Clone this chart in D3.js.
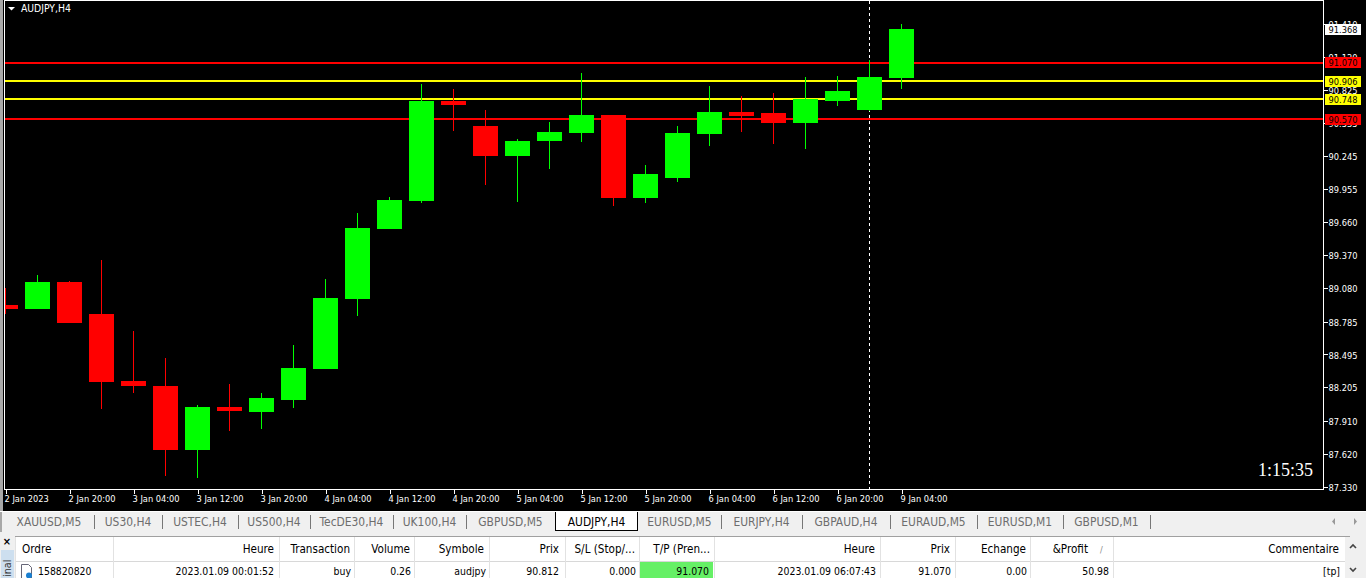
<!DOCTYPE html>
<html><head><meta charset="utf-8">
<script src="https://cdn.jsdelivr.net/npm/d3@7/dist/d3.min.js"></script>
<style>
html,body{margin:0;padding:0;background:#000;overflow:hidden}
svg{display:block}
text{font-family:"DejaVu Sans Condensed","DejaVu Sans",sans-serif;font-stretch:condensed}
.axis path{display:none}
.axis line{stroke:#fff;shape-rendering:crispEdges}
.axis text{fill:#fff;font-size:9.2px;font-family:"DejaVu Sans Condensed","DejaVu Sans",sans-serif;font-stretch:condensed}
</style></head><body>
<svg id="c" width="1366" height="578"></svg>
<script>
const symbolTitle = "AUDJPY,H4";
const opens  = [88.930,88.895,89.133,88.851,88.260,88.216,87.652,88.032,87.987,88.093,88.366,88.983,89.601,89.847,90.730,90.509,90.245,90.377,90.447,90.606,89.874,90.051,90.438,90.633,90.624,90.536,90.730,90.651,90.932];
const highs  = [89.080,89.195,89.142,89.327,88.701,88.464,88.049,88.235,88.155,88.579,89.160,89.742,89.883,90.879,90.835,90.651,90.394,90.544,90.977,90.606,90.165,90.509,90.862,90.773,90.800,90.941,90.950,91.091,91.409];
const lows   = [88.851,88.895,88.771,88.014,88.155,87.422,87.404,87.820,87.837,88.023,88.366,88.833,89.601,89.830,90.465,89.989,89.838,90.130,90.368,89.803,89.830,90.015,90.332,90.456,90.350,90.306,90.686,90.642,90.835];
const closes = [88.895,89.133,88.771,88.252,88.216,87.652,88.032,87.996,88.111,88.375,88.992,89.610,89.856,90.730,90.695,90.245,90.377,90.456,90.606,89.874,90.086,90.447,90.633,90.597,90.536,90.748,90.817,90.941,91.368];
const priceTicks = [91.410,91.120,90.825,90.535,90.245,89.955,89.660,89.370,89.080,88.785,88.495,88.205,87.910,87.620,87.330];
const timeIndex  = [0,2,4,6,8,10,12,14,16,18,20,22,24,26,28];
const timeLabels = ["2 Jan 2023","2 Jan 20:00","3 Jan 04:00","3 Jan 12:00","3 Jan 20:00","4 Jan 04:00","4 Jan 12:00","4 Jan 20:00","5 Jan 04:00","5 Jan 12:00","5 Jan 20:00","6 Jan 04:00","6 Jan 12:00","6 Jan 20:00","9 Jan 04:00"];
const levelPrices = [91.070,90.906,90.748,90.570];
const levelColors = ["#ff0000","#ffff00","#ffff00","#ff0000"];
const bidPrice = 91.368;
const crosshairIndex = 27;
const clockText = "1:15:35";
const tabNames = ["XAUUSD,M5","US30,H4","USTEC,H4","US500,H4","TecDE30,H4","UK100,H4","GBPUSD,M5","AUDJPY,H4","EURUSD,M5","EURJPY,H4","GBPAUD,H4","EURAUD,M5","EURUSD,M1","GBPUSD,M1"];
const tabEdges = [3,94,162,238,310,393,466,555,638,721,802,890,977,1063,1150];
const activeTab = "AUDJPY,H4";
const tableHeaders = ["Ordre","Heure","Transaction","Volume","Symbole","Prix","S/L (Stop/...","T/P (Pren...","Heure","Prix","Echange","&Profit","Commentaire"];
const tableRow = ["158820820","2023.01.09 00:01:52","buy","0.26","audjpy","90.812","0.000","91.070","2023.01.09 06:07:43","91.070","0.00","50.98","[tp]"];
const columnEdges = [15,113,279,354,414,489,565,639,714,880,955,1030,1113,1345];

const svg = d3.select("#c");
const W=1366,H=578,L=5,R=1323,T=1,B=489;
const x = d3.scaleLinear().domain([0,1]).range([5.5,37.5]);
const y = d3.scaleLinear().domain([87.33,90.245]).range([486.5,156]);
const fmt = d3.format(".3f");

svg.append("rect").attr("width",W).attr("height",H).attr("fill","#000");
svg.append("rect").attr("x",0).attr("y",0).attr("width",3).attr("height",511).attr("fill","#a8a8a8");
svg.append("defs").append("clipPath").attr("id","plot").append("rect").attr("x",L).attr("y",T).attr("width",R-L).attr("height",B-T);
const plot = svg.append("g").attr("clip-path","url(#plot)");

plot.append("line").attr("x1",x(crosshairIndex)).attr("x2",x(crosshairIndex)).attr("y1",T).attr("y2",B)
  .attr("stroke","#fff").attr("stroke-dasharray","3,3").style("shape-rendering","crispEdges");
plot.selectAll(".lvl").data(levelPrices).join("rect").attr("class","lvl")
  .attr("x",L).attr("width",R-L).attr("y",d=>Math.round(y(d)+0.2)-1).attr("height",2)
  .attr("fill",(d,i)=>levelColors[i]);

const idx = d3.range(opens.length);
const col = i=> closes[i]>=opens[i] ? "#00ff00" : "#ff0000";
plot.selectAll(".wick").data(idx).join("rect").attr("class","wick")
  .attr("x",i=>Math.floor(x(i))).attr("width",1)
  .attr("y",i=>Math.round(y(highs[i]))).attr("height",i=>Math.round(y(lows[i]))-Math.round(y(highs[i])))
  .attr("fill",col);
plot.selectAll(".body").data(idx).join("rect").attr("class","body")
  .attr("x",i=>x(i)-12.5).attr("width",25)
  .attr("y",i=>Math.round(y(Math.max(opens[i],closes[i]))))
  .attr("height",i=>Math.round(y(Math.min(opens[i],closes[i])))-Math.round(y(Math.max(opens[i],closes[i]))))
  .attr("fill",col);

svg.append("rect").attr("x",4).attr("y",0).attr("width",1).attr("height",B+1).attr("fill","#fff");
svg.append("rect").attr("x",4).attr("y",0).attr("width",R-3).attr("height",1).attr("fill","#fff");
svg.append("rect").attr("x",4).attr("y",B).attr("width",R-3).attr("height",1).attr("fill","#fff");
svg.append("rect").attr("x",R).attr("y",0).attr("width",1).attr("height",B+1).attr("fill","#fff");

const yAxis = d3.axisRight(y).tickValues(priceTicks).tickFormat(fmt).tickSize(4).tickPadding(1);
const yg = svg.append("g").attr("class","axis").attr("transform",`translate(${R+0.5},0)`).call(yAxis);
yg.selectAll("text").attr("y",0.7);
const xAxis = d3.axisBottom(x).tickValues(timeIndex).tickFormat((d,i)=>timeLabels[i]).tickSize(4).tickPadding(2);
const xg = svg.append("g").attr("class","axis").attr("transform",`translate(0,${B+0.5})`).call(xAxis);
xg.selectAll("text").attr("text-anchor","start").attr("dx",-1.5);

const tags = [{p:bidPrice,c:"#fff"}].concat(levelPrices.map((p,i)=>({p,c:levelColors[i]})));
const tg = svg.selectAll(".tag").data(tags).join("g").attr("class","tag")
  .attr("transform",d=>`translate(1325,${Math.round(y(d.p))-5})`);
tg.append("rect").attr("width",36).attr("height",11).attr("fill",d=>d.c);
tg.append("text").attr("x",18).attr("y",9).attr("text-anchor","middle").attr("font-size",9.2).attr("fill","#000").text(d=>fmt(d.p));

svg.append("path").attr("d",d3.line()([[8,7],[15,7],[11.5,10.5]])+"Z").attr("fill","#fff");
svg.append("text").attr("x",21).attr("y",12).attr("font-size",10.3).attr("fill","#fff").text(symbolTitle);
svg.append("text").attr("x",1313).attr("y",476).attr("text-anchor","end").attr("font-size",18)
  .style("font-family","'Liberation Serif',serif").style("font-stretch","normal").attr("fill","#fff").text(clockText);

svg.append("rect").attr("x",0).attr("y",511).attr("width",W).attr("height",1).attr("fill","#fff");
svg.append("rect").attr("x",0).attr("y",512).attr("width",W).attr("height",66).attr("fill","#f0f0f0");
svg.append("rect").attr("x",0).attr("y",512).attr("width",2).attr("height",20).attr("fill","#a8a8a8");
tabNames.forEach((n,i)=>{
  const a=tabEdges[i],b=tabEdges[i+1],active=n===activeTab;
  if(active){
    svg.append("path").attr("d",`M${a+.5},512V530.5H${b-.5}V512`).attr("fill","#fff").attr("stroke","#000").style("shape-rendering","crispEdges");
  } else if(tabNames[i+1]!==activeTab){
    svg.append("rect").attr("x",b).attr("y",515).attr("width",1).attr("height",14).attr("fill","#777");
  }
  svg.append("text").attr("x",(a+b)/2+(i==0?0.5:0)).attr("y",526).attr("text-anchor","middle").attr("font-size",11.9)
    .attr("fill",active?"#000":"#6d6d6d").text(n);
});
svg.selectAll(".arr").data([[1332,1],[1354,-1]]).join("path").attr("class","arr")
  .attr("d",d=>`M${d[0]+(d[1]>0?3:0)},518v7l${d[1]>0?-3:3},-3.5z`).attr("fill","#999");

const tTop=537,tSep=561;
svg.append("rect").attr("x",15).attr("y",tTop).attr("width",1330).attr("height",H-tTop).attr("fill","#fff");
svg.append("rect").attr("x",15).attr("y",tTop-1).attr("width",1335).attr("height",1).attr("fill","#a0a0a0");
svg.append("rect").attr("x",15).attr("y",tSep).attr("width",1330).attr("height",1).attr("fill","#d8d8d8");
svg.append("rect").attr("x",columnEdges[7]+1).attr("y",tSep+1).attr("width",columnEdges[8]-columnEdges[7]-2).attr("height",H-tSep-1).attr("fill","#66f066");
columnEdges.slice(0,-1).forEach(e=>svg.append("rect").attr("x",e).attr("y",tTop).attr("width",1).attr("height",H-tTop).attr("fill","#e2e2e2"));
const hdrRight=[null,274,350,410,484,559,635,710,875,950,1026,1088,1339];
const rowRight=[null,274,351,411,486,559,636,709,876,951,1027,1109,1340];
tableHeaders.forEach((t,i)=>{
  const sel=svg.append("text").attr("y",553).attr("font-size",11.6).attr("fill","#000").text(t);
  if(i===0) sel.attr("x",22); else sel.attr("x",hdrRight[i]).attr("text-anchor","end");
});
tableRow.forEach((t,i)=>{
  const sel=svg.append("text").attr("y",575).attr("font-size",10.4).attr("fill","#000").text(t);
  if(i===0) sel.attr("x",38); else sel.attr("x",rowRight[i]).attr("text-anchor","end");
});
svg.append("text").attr("x",1100).attr("y",553).attr("font-size",9).attr("fill","#888").text("/");
svg.append("path").attr("d","M21.5,578V564.5H28.5L31.5,567.5V578").attr("fill","#fff").attr("stroke","#667").attr("stroke-width",1);
svg.append("circle").attr("cx",29).attr("cy",575.5).attr("r",3).attr("fill","#1a7fd0");
svg.append("path").attr("d","M1350,548l3,-3l3,3").attr("fill","none").attr("stroke","#444").attr("stroke-width",1.6);
svg.append("path").attr("d","M1350,568l3,3l3,-3").attr("fill","none").attr("stroke","#444").attr("stroke-width",1.6);
svg.append("rect").attr("x",1).attr("y",550).attr("width",13).attr("height",28).attr("fill","#cddfef");
svg.append("text").attr("transform","translate(11,577) rotate(-90)").attr("font-size",10.7).attr("fill","#333").text("inal");
svg.append("text").attr("x",7).attr("y",545).attr("text-anchor","middle").attr("font-size",11).attr("font-weight","bold").attr("fill","#000").text("×");
</script>
</body></html>
